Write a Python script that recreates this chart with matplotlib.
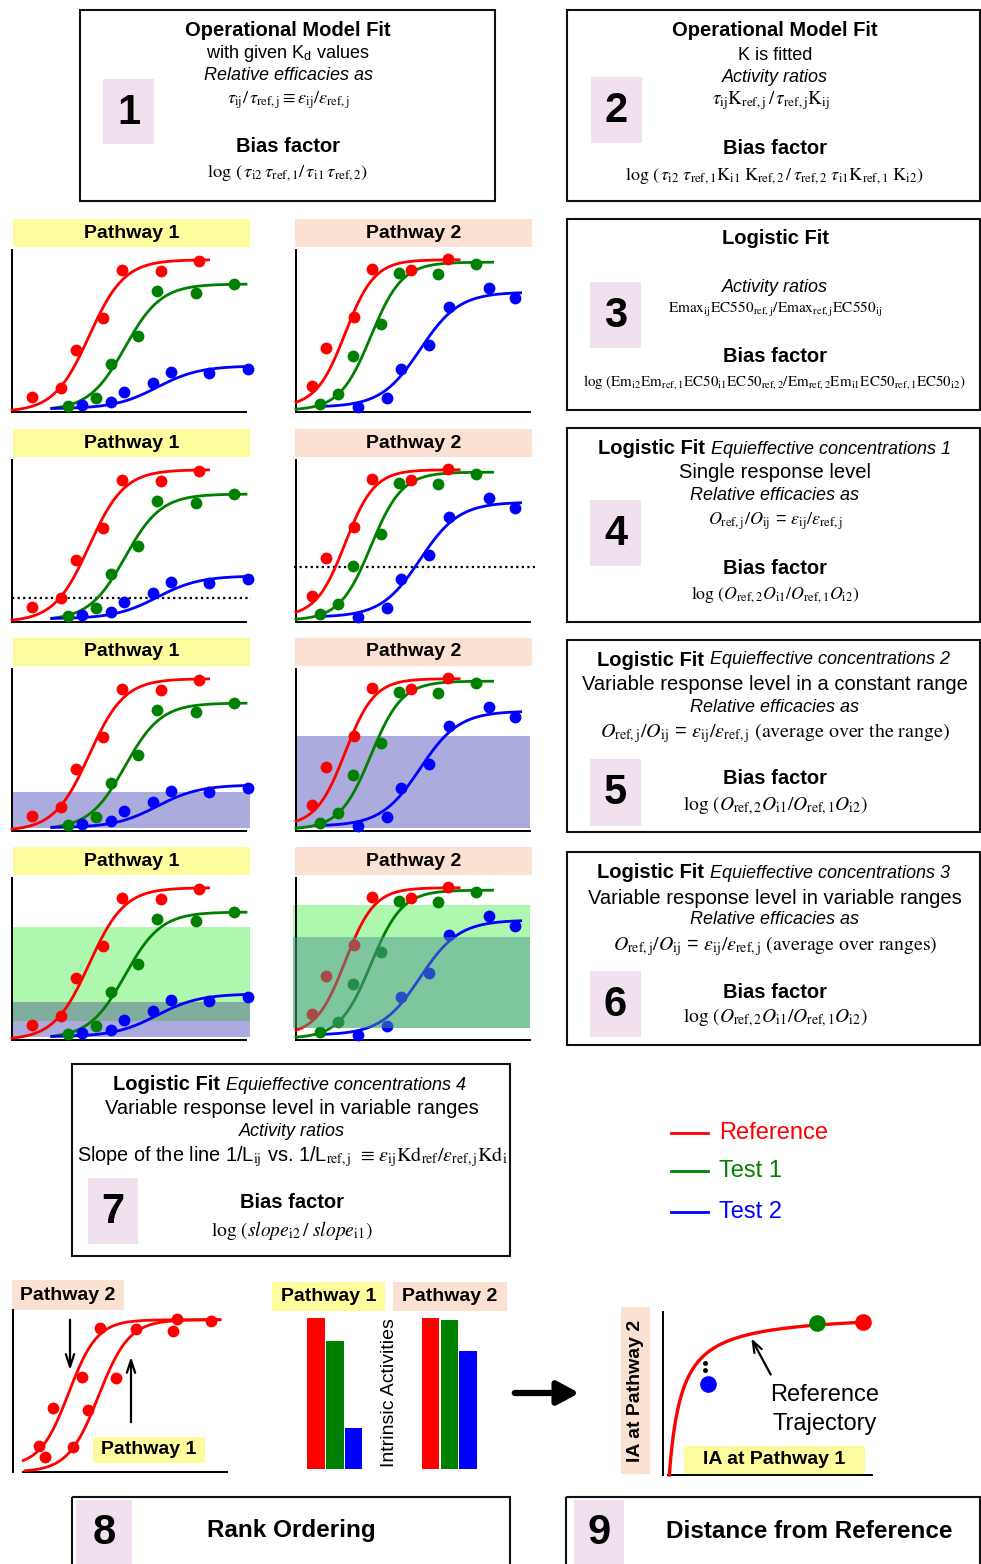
import numpy as np
import matplotlib.pyplot as plt
from matplotlib.patches import Rectangle

plt.rcParams['font.family'] = ['Liberation Sans', 'DejaVu Sans']
plt.rcParams['mathtext.fontset'] = 'stix'

W, H = 981, 1564

RED, GREEN, BLUE = '#ff0000', '#008000', '#0000ff'
YELLOW = '#fdfd9e'
PEACH = '#fbe1d1'
NUM_BG = '#f1e1ee'
LAVENDER = '#ababdd'
LIGHT_GREEN = '#aef7ae'
TEAL = '#80ae9e'

# ── dose-response points (x: log concentration 0-10, y: response 0-1) ────────
p1_ref_x = [0.87, 2.09, 2.74, 3.90, 4.71, 6.37, 8.00]
p1_ref_y = [0.094, 0.146, 0.383, 0.582, 0.877, 0.872, 0.934]
p1_t1_x = [2.38, 3.59, 4.23, 5.37, 6.18, 7.86, 9.50]
p1_t1_y = [0.037, 0.088, 0.296, 0.469, 0.747, 0.737, 0.790]
p1_t2_x = [2.98, 4.23, 4.80, 6.01, 6.79, 8.43, 10.07]
p1_t2_y = [0.043, 0.064, 0.125, 0.177, 0.245, 0.243, 0.263]

p2_ref_x = [0.67, 1.28, 2.48, 3.26, 4.91, 6.51]
p2_ref_y = [0.163, 0.393, 0.589, 0.883, 0.877, 0.942]
p2_t1_x = [1.03, 1.81, 2.45, 3.62, 4.40, 6.08, 7.68]
p2_t1_y = [0.049, 0.109, 0.348, 0.543, 0.856, 0.850, 0.912]
p2_t2_x = [2.66, 3.87, 4.47, 5.68, 6.54, 8.25, 9.36]
p2_t2_y = [0.033, 0.084, 0.263, 0.414, 0.646, 0.767, 0.702]

# logistic fits: x_from, x_to, bottom, top, x50, hill
p1_ref_fit = [0.0, 8.4, 0.0, 0.94, 3.3, 1.33]
p1_t1_fit = [1.7, 10.0, 0.01, 0.79, 4.83, 1.3]
p1_t2_fit = [1.7, 10.2, 0.02, 0.285, 6.2, 1.1]
p2_ref_fit = [0.0, 6.97, 0.03, 0.94, 2.1, 1.6]
p2_t1_fit = [0.0, 8.4, 0.01, 0.925, 3.2, 1.5]
p2_t2_fit = [0.95, 9.6, 0.03, 0.74, 5.3, 1.2]

# response levels / ranges used by the equieffective methods
level_p1 = 0.148
level_p2 = 0.34
range_p1 = [0.02, 0.24]
range_p2 = [0.02, 0.586]
ranges3_p1_green = [0.117, 0.696]
ranges3_p1_blue = [0.02, 0.233]
ranges3_p2_green = [0.072, 0.833]
ranges3_p2_dark = [0.072, 0.638]

# rank ordering: one compound in both pathways
rank_x = [1.23, 1.50, 1.88, 2.79, 3.21, 3.52, 4.07, 4.80, 5.75, 7.46, 7.65, 9.24]
rank_y = [0.162, 0.094, 0.393, 0.152, 0.584, 0.383, 0.887, 0.578, 0.881, 0.872, 0.943, 0.932]
rank_p2_fit = [0.48, 9.67, 0.035, 0.94, 2.6, 1.5]
rank_p1_fit = [0.56, 9.67, 0.0, 0.94, 4.0, 1.4]

# intrinsic activities (reference, test 1, test 2)
ia_pathway1 = [1.0, 0.85, 0.27]
ia_pathway2 = [1.0, 0.99, 0.78]

# distance from the reference trajectory
traj_ia1 = [0.958, 0.735, 0.217]
traj_ia2 = [0.94, 0.93, 0.556]
traj_fit = [0.03, 0.958, 0.998, 0.060]  # x_from, x_to, plateau, half-saturation

fig = plt.figure(figsize=(W / 100, H / 100), dpi=100)
canvas = fig.add_axes([0, 0, 1, 1])
canvas.set_xlim(0, W)
canvas.set_ylim(H, 0)
canvas.axis('off')


def px_axes(x0, y0, x1, y1):
    ax = fig.add_axes([x0 / W, 1 - y1 / H, (x1 - x0) / W, (y1 - y0) / H])
    ax.patch.set_alpha(0)
    ax.set_xticks([])
    ax.set_yticks([])
    for s in ('top', 'right'):
        ax.spines[s].set_visible(False)
    for s in ('left', 'bottom'):
        ax.spines[s].set_linewidth(1.4)
    return ax


def logistic(x, bottom, top, x50, hill):
    return bottom + (top - bottom) / (1 + np.exp(-hill * (x - x50)))


def fit_curve(ax, fit, color):
    xx = np.linspace(fit[0], fit[1], 200)
    ax.plot(xx, logistic(xx, *fit[2:]), color=color, lw=2.0, clip_on=False, zorder=3)


def say(x, y, s, size=13, weight='normal', style='normal', ha='center', color='black', rot=0, ax=None):
    (ax or canvas).text(x, y, s, fontsize=size, fontweight=weight, fontstyle=style,
                        ha=ha, va='center', color=color, rotation=rot,
                        transform=canvas.transData, zorder=6)


def tag(x0, y0, x1, y1, text, color, rot=0, ax=None, z=1):
    target = ax or canvas
    target.add_patch(Rectangle((x0, y0), x1 - x0, y1 - y0, facecolor=color, edgecolor='none',
                               transform=canvas.transData, clip_on=False, zorder=z))
    target.text((x0 + x1) / 2, (y0 + y1) / 2, text, fontsize=14, fontweight='bold',
                ha='center', va='center', rotation=rot, transform=canvas.transData, zorder=z + 0.1)


def frame(x0, y0, x1, y1):
    canvas.add_patch(Rectangle((x0, y0), x1 - x0, y1 - y0, facecolor='none',
                               edgecolor='#111111', lw=1.5))


def number(x0, y0, x1, y1, n):
    canvas.add_patch(Rectangle((x0, y0), x1 - x0, y1 - y0, facecolor=NUM_BG, edgecolor='none'))
    say((x0 + x1) / 2, (y0 + y1) / 2 + 1, n, size=30, weight='bold')


def mixed(xsplit, y, bold, ital):
    say(xsplit, y, bold, size=14.5, weight='bold', ha='right')
    say(xsplit + 6, y, ital, size=13, style='italic', ha='left')


# ── four rows of dose-response panels ────────────────────────────────────────
row_offsets = [0, 210, 419, 628]
series_p1 = [(p1_ref_x, p1_ref_y, p1_ref_fit, RED),
             (p1_t1_x, p1_t1_y, p1_t1_fit, GREEN),
             (p1_t2_x, p1_t2_y, p1_t2_fit, BLUE)]
series_p2 = [(p2_ref_x, p2_ref_y, p2_ref_fit, RED),
             (p2_t1_x, p2_t1_y, p2_t1_fit, GREEN),
             (p2_t2_x, p2_t2_y, p2_t2_fit, BLUE)]

for r, off in enumerate(row_offsets):
    tag(13, 219 + off, 250, 247 + off, 'Pathway 1', YELLOW)
    tag(295, 219 + off, 532, 247 + off, 'Pathway 2', PEACH)
    axes = []
    for x0, x1, series in ((12, 246, series_p1), (296, 530, series_p2)):
        ax = px_axes(x0, 250 + off, x1, 412 + off)
        ax.set_xlim(0, 10)
        ax.set_ylim(0, 1)
        for xs, ys, fit, color in series:
            fit_curve(ax, fit, color)
            ax.plot(xs, ys, 'o', color=color, ms=8.5, mec='none', clip_on=False, zorder=4)
        axes.append(ax)
    a1, a2 = axes
    if r == 1:
        a1.plot([0, 10.2], [level_p1, level_p1], color='black', lw=1.6, ls=(0, (1, 1.5)), clip_on=False, zorder=2)
        a2.plot([-0.1, 10.2], [level_p2, level_p2], color='black', lw=1.6, ls=(0, (1, 1.5)), clip_on=False, zorder=2)
    elif r == 2:
        a1.axhspan(*range_p1, xmin=0.004, xmax=1.015, color=LAVENDER, lw=0, zorder=1).set_clip_on(False)
        a2.axhspan(*range_p2, xmin=0.0, xmax=1.0, color=LAVENDER, lw=0, zorder=1).set_clip_on(False)
    elif r == 3:
        a1.axhspan(*ranges3_p1_green, xmin=0.004, xmax=1.015, color=LIGHT_GREEN, lw=0, zorder=1).set_clip_on(False)
        a1.axhspan(*ranges3_p1_blue, xmin=0.004, xmax=1.015, color=LAVENDER, lw=0, zorder=1).set_clip_on(False)
        lo = max(ranges3_p1_green[0], ranges3_p1_blue[0])
        hi = min(ranges3_p1_green[1], ranges3_p1_blue[1])
        a1.axhspan(lo, hi, xmin=0.004, xmax=1.015, color=TEAL, lw=0, zorder=1.5).set_clip_on(False)
        a2.axhspan(*ranges3_p2_green, xmin=-0.013, xmax=1.0, color=LIGHT_GREEN, lw=0, zorder=1).set_clip_on(False)
        a2.axhspan(*ranges3_p2_dark, xmin=-0.013, xmax=1.0, color='#4f9890', alpha=0.5, lw=0, zorder=5).set_clip_on(False)

# ── method boxes ─────────────────────────────────────────────────────────────
frame(80, 10, 495, 201)
number(103, 79, 154, 144, '1')
say(288, 30, 'Operational Model Fit', size=14.5, weight='bold')
say(288, 53, 'with given K$_\\mathregular{d}$ values')
say(288, 75, 'Relative efficacies as', style='italic')
say(288, 100, r'$\tau_\mathrm{ij}/\,\tau_\mathrm{ref,j} \equiv \varepsilon_\mathrm{ij}/\varepsilon_\mathrm{ref,j}$', size=13)
say(288, 147, 'Bias factor', size=14.5, weight='bold')
say(288, 173, r'$\mathrm{log}\ (\,\tau_\mathrm{i2}\,\tau_\mathrm{ref,1}/\,\tau_\mathrm{i1}\,\tau_\mathrm{ref,2})$', size=13.3)

frame(567, 10, 980, 201)
number(591, 77, 642, 143, '2')
say(775, 30, 'Operational Model Fit', size=14.5, weight='bold')
say(775, 55, 'K is fitted')
say(775, 77, 'Activity ratios', style='italic')
say(771, 101, r'$\tau_\mathrm{ij}\mathrm{K_{ref,j}}\,/\,\tau_\mathrm{ref,j}\mathrm{K_{ij}}$', size=13.5)
say(775, 149, 'Bias factor', size=14.5, weight='bold')
say(774, 176, r'$\mathrm{log}\ (\,\tau_\mathrm{i2}\ \tau_\mathrm{ref,1}\mathrm{K_{i1}\ K_{ref,2}}\,/\,\tau_\mathrm{ref,2}\ \tau_\mathrm{i1}\mathrm{K_{ref,1}\ K_{i2}})$', size=13)

frame(567, 219, 980, 410)
number(590, 282, 641, 348, '3')
say(775, 239, 'Logistic Fit', size=14.5, weight='bold')
say(775, 287, 'Activity ratios', style='italic')
say(775, 309, r'$\mathrm{Emax_{ij}EC550_{ref,j}/Emax_{ref,j}EC550_{ij}}$', size=11)
say(775, 357, 'Bias factor', size=14.5, weight='bold')
say(774, 382, r'$\mathrm{log\ (Em_{i2}Em_{ref,1}EC50_{i1}EC50_{ref,2}/Em_{ref,2}Em_{i1}EC50_{ref,1}EC50_{i2})}$', size=10.8)

frame(567, 428, 980, 622)
number(590, 500, 641, 566, '4')
mixed(705, 449, 'Logistic Fit', 'Equieffective concentrations 1')
say(775, 473, 'Single response level', size=14.5)
say(775, 496, 'Relative efficacies as', style='italic')
say(775, 521, r'$O_\mathrm{ref,j}/O_\mathrm{ij}$ = $\varepsilon_\mathrm{ij}/\varepsilon_\mathrm{ref,j}$', size=13)
say(775, 568, 'Bias factor', size=14.5, weight='bold')
say(775, 595, r'$\mathrm{log}\ (O_\mathrm{ref,2}O_\mathrm{i1}/O_\mathrm{ref,1}O_\mathrm{i2})$', size=12.8)

frame(567, 640, 980, 832)
number(590, 759, 641, 826, '5')
mixed(704, 660, 'Logistic Fit', 'Equieffective concentrations 2')
say(775, 684, 'Variable response level in a constant range', size=14.5)
say(775, 707, 'Relative efficacies as', style='italic')
say(775, 733, r'$O_\mathrm{ref,j}/O_\mathrm{ij}$ = $\varepsilon_\mathrm{ij}/\varepsilon_\mathrm{ref,j}\ \mathrm{(average\ over\ the\ range)}$', size=14.4)
say(775, 779, 'Bias factor', size=14.5, weight='bold')
say(775, 806, r'$\mathrm{log}\ (O_\mathrm{ref,2}O_\mathrm{i1}/O_\mathrm{ref,1}O_\mathrm{i2})$', size=14)

frame(567, 852, 980, 1045)
number(590, 971, 641, 1037, '6')
mixed(704, 873, 'Logistic Fit', 'Equieffective concentrations 3')
say(775, 898, 'Variable response level in variable ranges', size=14.5)
say(775, 920, 'Relative efficacies as', style='italic')
say(775, 946, r'$O_\mathrm{ref,j}/O_\mathrm{ij}$ = $\varepsilon_\mathrm{ij}/\varepsilon_\mathrm{ref,j}\ \mathrm{(average\ over\ ranges)}$', size=14.2)
say(775, 992, 'Bias factor', size=14.5, weight='bold')
say(775, 1018, r'$\mathrm{log}\ (O_\mathrm{ref,2}O_\mathrm{i1}/O_\mathrm{ref,1}O_\mathrm{i2})$', size=14)

frame(72, 1064, 510, 1256)
number(88, 1178, 138, 1244, '7')
mixed(220, 1085, 'Logistic Fit', 'Equieffective concentrations 4')
say(292, 1109, 'Variable response level in variable ranges', size=14.5)
say(292, 1132, 'Activity ratios', style='italic')
say(292, 1157, r'Slope of the line 1/L$_\mathrm{ij}$ vs. 1/L$_\mathrm{ref,j}$ $\equiv\,\varepsilon_\mathrm{ij}\mathrm{Kd_{ref}}/\varepsilon_\mathrm{ref,j}\mathrm{Kd_i}$', size=14.3)
say(292, 1203, 'Bias factor', size=14.5, weight='bold')
say(292, 1230, r'$\mathrm{log}\ (\mathit{slope}_\mathrm{i2}\,/\ \mathit{slope}_\mathrm{i1})$', size=14)

# ── legend ───────────────────────────────────────────────────────────────────
for y, name, color in ((1133, 'Reference', RED), (1171, 'Test 1', GREEN), (1212, 'Test 2', BLUE)):
    canvas.plot([671, 708], [y, y], color=color, lw=2)
    say(719, y, name, size=17, color=color, ha='left')

# ── 8: rank ordering ─────────────────────────────────────────────────────────
ax8 = px_axes(13, 1310, 227, 1472)
ax8.set_xlim(0, 10)
ax8.set_ylim(0, 1)
ax8.spines['bottom'].set_bounds(0.47, 10)
fit_curve(ax8, rank_p2_fit, RED)
fit_curve(ax8, rank_p1_fit, RED)
ax8.plot(rank_x, rank_y, 'o', color=RED, ms=8.5, mec='none', clip_on=False, zorder=4)
tag(12, 1280, 124, 1310, 'Pathway 2', PEACH)
tag(93, 1437, 205, 1463, 'Pathway 1', YELLOW, ax=ax8, z=5)
for (xa, ya), (xb, yb) in (((70, 1317), (70, 1373)), ((131, 1425), (131, 1354))):
    ax8.annotate('', xy=(xb, yb), xytext=(xa, ya), xycoords=canvas.transData,
                 textcoords=canvas.transData,
                 arrowprops=dict(arrowstyle='->,head_length=0.9,head_width=0.3', lw=1.6, color='black'))

axb = px_axes(300, 1318, 480, 1469)
axb.axis('off')
axb.set_xlim(0, 180)
axb.set_ylim(0, 1)
axb.bar([16, 35, 53.5], ia_pathway1, width=17.5, color=[RED, GREEN, BLUE])
axb.bar([130.5, 149.5, 168], ia_pathway2, width=17.5, color=[RED, GREEN, BLUE])
tag(272, 1282, 385, 1311, 'Pathway 1', YELLOW)
tag(393, 1282, 507, 1311, 'Pathway 2', PEACH)
say(390, 1393, 'Intrinsic Activities', size=14, rot=90)

canvas.annotate('', xy=(582, 1393), xytext=(512, 1393),
                arrowprops=dict(arrowstyle='-|>,head_length=1.3,head_width=0.7', lw=4.5, color='black'))

# ── 9: distance from the reference trajectory ────────────────────────────────
ax9 = px_axes(663, 1312, 872, 1475)
ax9.set_xlim(0, 1)
ax9.set_ylim(0, 1)
ax9.spines['bottom'].set_bounds(0.024, 1)
tag(684, 1446, 865, 1474, 'IA at Pathway 1', YELLOW, ax=ax9, z=0.5)
u = np.linspace(0, traj_fit[1] - traj_fit[0], 300)
ax9.plot(traj_fit[0] + u, traj_fit[2] * u / (traj_fit[3] + u), color=RED, lw=2.4, clip_on=False, zorder=3)
for x, y, c in zip(traj_ia1, traj_ia2, [RED, GREEN, BLUE]):
    ax9.plot(x, y, 'o', color=c, ms=12, mec='none', clip_on=False, zorder=4)
ax9.plot([0.201, 0.201], [0.689, 0.644], 'o', color='black', ms=2.5, ls='none', clip_on=False)
tag(621, 1307, 650, 1474, 'IA at Pathway 2', PEACH, rot=90)
canvas.annotate('', xy=(750, 1336), xytext=(772, 1377),
                arrowprops=dict(arrowstyle='->,head_length=0.8,head_width=0.3', lw=1.6, color='black'))
say(825, 1395, 'Reference', size=17)
say(825, 1424, 'Trajectory', size=17)

# ── 8 / 9 summary boxes ──────────────────────────────────────────────────────
frame(72, 1497, 510, 1600)
number(76, 1500, 132, 1564, '8')
say(291, 1531, 'Rank Ordering', size=17.5, weight='bold')
frame(566, 1497, 980, 1600)
number(574, 1500, 624, 1564, '9')
say(809, 1531, 'Distance from Reference', size=17.5, weight='bold')

plt.savefig('out.png', dpi=100)
